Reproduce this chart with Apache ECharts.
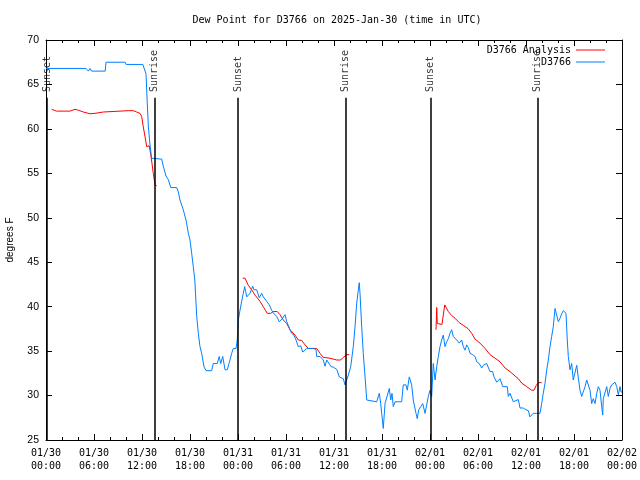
<!DOCTYPE html>
<html>
<head>
<meta charset="utf-8">
<script src="https://cdn.jsdelivr.net/npm/echarts@6/dist/echarts.min.js"></script>
<style>html,body{margin:0;padding:0;background:#fff;}#c{width:640px;height:480px;}</style>
</head>
<body>
<div id="c"></div>
<script>
// Hours since 2025-01-30 00:00 UTC
const blueHours = [0,5.0,5.3,5.5,5.7,7.4,7.5,9.9,10.0,12.1,12.5,12.66,12.8,13.0,13.2,13.4,14.46,14.66,15.0,15.29,15.59,16.34,16.54,16.75,17.16,17.5,17.79,18.0,18.21,18.41,18.6,18.84,19.04,19.25,19.46,19.75,20.0,20.71,20.91,21.41,21.66,21.84,22.09,22.38,22.66,22.91,23.21,23.41,23.75,23.91,24.04,24.25,24.46,24.66,24.84,24.96,25.09,25.29,25.5,25.84,26.0,26.34,26.66,26.96,27.16,27.59,27.91,28.21,28.41,28.84,29.16,29.5,29.88,30.09,30.29,30.5,30.71,31.0,31.25,31.54,31.84,32.09,32.25,32.59,33.34,33.75,33.84,34.25,34.66,34.88,35.09,35.29,35.63,35.91,36.34,36.66,37.16,37.38,37.59,37.79,38.09,38.41,38.63,38.84,39.04,39.16,39.25,39.46,39.66,39.88,40.09,40.29,41.34,41.66,41.84,41.96,42.16,42.38,42.63,42.91,43.09,43.25,43.41,43.63,44.46,44.66,45.0,45.16,45.41,45.71,45.91,46.25,46.41,46.59,46.84,47.09,47.38,47.59,47.79,48.0,48.21,48.41,48.63,48.84,49.04,49.25,49.46,49.66,49.88,50.09,50.29,50.5,50.71,50.91,51.13,51.34,51.66,51.96,52.16,52.38,52.59,52.79,53.0,53.34,53.63,53.84,54.16,54.46,54.66,54.88,55.09,55.29,55.5,55.84,56.0,56.34,56.75,57.09,57.66,57.79,58.0,58.21,58.41,58.63,59.04,59.25,59.66,60.0,60.29,60.5,60.91,61.34,61.54,61.75,61.96,62.16,62.38,62.59,62.79,63.0,63.21,63.41,63.63,63.84,64.04,64.25,64.46,64.66,65.0,65.16,65.29,65.5,65.71,65.91,66.13,66.34,66.54,66.75,66.96,67.16,67.38,67.59,67.79,68.0,68.21,68.41,68.63,68.84,69.04,69.25,69.46,69.59,69.66,69.88,70.09,70.29,70.5,70.71,70.88,71.13,71.34,71.54,71.75,71.88,72];
const blueValues = [66.8,66.8,66.5,66.8,66.5,66.5,67.5,67.5,67.25,67.25,66.2,62.9,60.2,58.2,56.7,56.6,56.6,55.8,54.7,54.3,53.4,53.4,52.9,52.0,50.9,49.75,48.25,47.5,46.0,44.5,43.0,38.9,37.0,35.5,34.75,33.25,32.8,32.8,33.6,33.6,34.4,33.6,34.4,32.9,32.9,33.7,34.75,35.3,35.3,36.25,38.5,39.6,40.6,41.5,42.25,41.7,41.1,41.0,41.5,42.3,41.9,41.9,41.0,41.5,41.1,40.6,40.2,39.6,39.3,38.9,38.3,38.6,39.1,38.3,37.9,37.4,37.0,36.8,36.25,35.5,35.6,34.9,34.8,35.3,35.3,35.2,34.4,34.4,34.0,33.3,34.0,34.0,33.25,33.2,32.95,32.1,31.9,31.2,31.4,32.3,33.25,35.5,37.75,40.4,41.9,42.7,41.5,37.75,34.75,32.1,29.5,29.3,29.3,30.25,29.1,28.0,26.3,29.1,29.1,30.8,29.5,30.25,28.75,29.3,29.3,31.2,31.2,30.6,32.1,31.2,29.5,28.0,27.4,28.4,28.75,29.1,28.0,28.2,29.9,30.6,29.9,33.6,31.75,33.25,34.4,35.5,36.25,36.8,35.5,36.05,36.4,37.0,37.4,36.65,36.8,36.25,35.9,36.25,35.5,35.1,35.7,35.4,34.75,34.6,34.4,33.8,33.6,33.1,33.4,33.3,33.6,33.4,32.7,32.7,32.1,31.5,31.9,31.0,31.0,29.9,30.25,30.1,29.3,29.5,29.55,28.6,28.6,28.4,28.3,27.6,28.0,28.0,27.9,28.0,29.1,30.25,31.4,32.9,34.0,35.5,36.65,37.75,39.8,39.6,38.3,38.7,39.2,39.55,39.25,36.25,34.4,32.9,33.6,31.75,31.75,33.4,32.0,30.6,29.9,29.9,31.0,31.75,31.75,30.6,29.1,29.65,29.1,30.25,31.0,30.6,28.75,27.8,29.65,29.65,31.0,29.9,30.8,31.2,31.0,31.5,31.0,30.1,31.0,30.4,30.4];

// null entries split the analysis line into its three runs
const redHours = [0.71,1.33,3.0,3.63,4.04,4.67,5.5,6.13,7.17,10.29,10.91,11.33,11.75,11.96,12.16,12.38,12.59,12.79,12.91,13.09,13.25,13.41,13.63,13.84,null,24.59,24.88,25.29,25.71,26.13,26.75,27.16,27.66,28.09,28.41,28.91,29.25,29.66,30.09,30.5,31.13,31.54,31.96,32.38,32.79,33.84,34.25,34.66,35.5,36.34,36.84,37.16,37.59,37.91,null,48.75,48.84,48.91,49.5,49.75,49.84,50.0,50.29,50.71,51.13,51.66,52.16,52.79,53.21,53.63,54.25,54.88,55.5,56.13,56.75,57.38,58.0,58.63,59.04,59.46,60.09,60.71,61.0,61.25,61.54,61.96];
const redValues = [62.2,62.0,62.0,62.2,62.1,61.9,61.7,61.75,61.9,62.05,62.05,61.9,61.75,61.4,60.25,59.1,58.0,57.8,58.1,57.1,56.1,55.0,53.7,53.6,null,43.2,43.2,42.4,41.9,41.3,40.6,40.0,39.25,39.25,39.45,39.45,39.1,38.5,38.1,37.4,36.8,36.25,36.2,35.7,35.3,35.3,34.75,34.3,34.2,34.0,34.0,34.3,34.6,34.6,null,37.4,39.9,38.1,38.0,37.9,40.2,40.1,39.45,39.0,38.7,38.2,37.9,37.5,37.0,36.35,35.9,35.3,34.6,34.2,33.8,33.1,32.7,32.2,31.9,31.4,31.0,30.6,30.6,31.1,31.45,31.45];

const markerHours = [0.125, 13.57, 24.03, 37.45, 48.09, 61.45];
const markerNames = ['Sunset','Sunrise','Sunset','Sunrise','Sunset','Sunrise'];
const dayLabels = ['01/30','01/31','02/01','02/02'];

const MONO = '"DejaVu Sans Mono", "Liberation Mono", monospace';
const SANS = '"Liberation Sans", Arial, sans-serif';

function pairs(hs, vs) {
  return hs.map((h, i) => (h === null ? [null, null] : [h, vs[i]]));
}
const markerLineTop = 63.5;
const markerLabelY = 64.15;

const chart = echarts.init(document.getElementById('c'), null, {renderer: 'canvas'});

const xCommon = {
  type: 'value', min: 0, max: 72, interval: 6,
  axisLine: {show: true, onZero: false, lineStyle: {color: '#000', width: 1}},
  axisTick: {show: true, inside: true, length: 6, lineStyle: {color: '#000'}},
  minorTick: {show: true, splitNumber: 3, length: 3, lineStyle: {color: '#000'}},
  splitLine: {show: false}
};
const yCommon = {
  type: 'value', min: 25, max: 70, interval: 5,
  axisLine: {show: true, onZero: false, lineStyle: {color: '#000', width: 1}},
  axisTick: {show: true, inside: true, length: 6, lineStyle: {color: '#000'}},
  splitLine: {show: false}
};

const option = {
  backgroundColor: '#fff',
  animation: false,
  title: {
    text: 'Dew Point for D3766 on 2025-Jan-30 (time in UTC)',
    left: 332, top: 10, textAlign: 'center',
    textStyle: {fontFamily: MONO, fontSize: 10, fontWeight: 'normal', color: '#000'}
  },
  legend: [
    {data: ['D3766 Analysis'], right: 30, top: 40, align: 'right', icon: 'rect', itemWidth: 29, itemHeight: 1,
     textStyle: {fontFamily: MONO, fontSize: 10, color: '#000'}, selectedMode: false},
    {data: ['D3766'], right: 30, top: 52, align: 'right', icon: 'rect', itemWidth: 29, itemHeight: 1,
     textStyle: {fontFamily: MONO, fontSize: 10, color: '#000'}, selectedMode: false}
  ],
  grid: {left: 46, right: 18, top: 40, bottom: 40, containLabel: false, outerBoundsMode: 'none'},
  xAxis: [
    Object.assign({}, xCommon, {
      position: 'bottom',
      axisLabel: {
        show: true, margin: 7, color: '#000', fontFamily: MONO, fontSize: 10, lineHeight: 13,
        formatter: function (v) {
          const d = dayLabels[Math.floor(v / 24)];
          const hh = String(v % 24).padStart(2, '0');
          return d + '\n' + hh + ':00';
        }
      }
    }),
    Object.assign({}, xCommon, {position: 'top', axisLabel: {show: false}})
  ],
  yAxis: [
    Object.assign({}, yCommon, {
      position: 'left',
      name: 'degrees F', nameLocation: 'middle', nameGap: 31, nameRotate: 90,
      nameTextStyle: {fontFamily: SANS, fontSize: 10, color: '#000'},
      axisLabel: {show: true, margin: 7, color: '#000', fontFamily: SANS, fontSize: 10.5}
    }),
    Object.assign({}, yCommon, {position: 'right', axisLabel: {show: false}})
  ],
  series: [
    {
      name: 'D3766 Analysis', type: 'line', xAxisIndex: 0, yAxisIndex: 0,
      data: pairs(redHours, redValues), showSymbol: false, symbol: 'none', connectNulls: false,
      lineStyle: {color: '#ff0000', width: 1}, itemStyle: {color: '#ff0000'}, z: 3
    },
    {
      name: 'D3766', type: 'line', xAxisIndex: 0, yAxisIndex: 0,
      data: pairs(blueHours, blueValues), showSymbol: false, symbol: 'none',
      lineStyle: {color: '#0080ff', width: 1}, itemStyle: {color: '#0080ff'}, z: 4
    },
    {
      name: 'markers', type: 'scatter', xAxisIndex: 0, yAxisIndex: 0,
      data: markerHours.map((h, i) => ({value: [h, markerLabelY], name: markerNames[i]})),
      symbolSize: 1, itemStyle: {color: 'rgba(0,0,0,0)'}, silent: true, z: 5,
      label: {
        show: true, position: 'inside', rotate: 90, align: 'left', verticalAlign: 'middle',
        formatter: p => p.name, fontFamily: MONO, fontSize: 10, color: '#000'
      },
      markLine: {
        silent: true, symbol: 'none', animation: false,
        label: {show: false},
        lineStyle: {color: '#000', width: 1.5, type: 'solid'},
        data: markerHours.map(h => [{coord: [h, 25]}, {coord: [h, markerLineTop]}])
      }
    }
  ]
};
chart.setOption(option);
</script>
</body>
</html>
